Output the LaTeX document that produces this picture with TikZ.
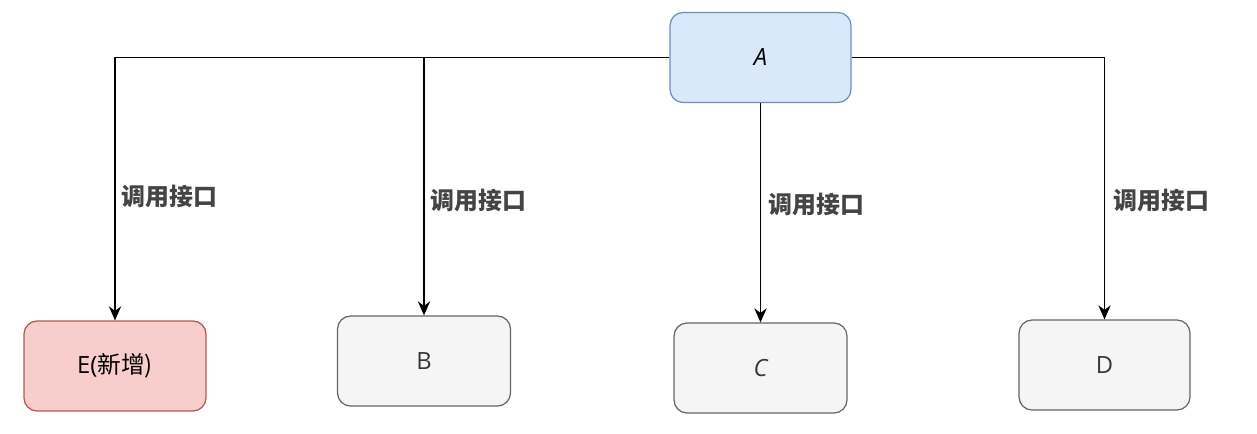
\documentclass[tikz,border=0pt]{standalone}
\usepackage{fontspec}
\setmainfont{Open Sans}
\newfontfamily\cjk{Noto Sans CJK SC}
\usetikzlibrary{arrows.meta}
\definecolor{blueFill}{HTML}{DAE8FC}
\definecolor{blueLine}{HTML}{6C8EBF}
\definecolor{redFill}{HTML}{F8CECC}
\definecolor{redLine}{HTML}{B85450}
\definecolor{grayFill}{HTML}{F5F5F5}
\definecolor{grayLine}{HTML}{666666}
\definecolor{lblText}{HTML}{444444}
\tikzset{
  box/.style={draw, rounded corners=0.26cm, line width=0.7pt, inner sep=0pt,
    minimum height=1.8cm, font=\fontsize{13.5pt}{16pt}\selectfont},
  conn/.style={-{Stealth[length=8pt,width=7pt]}, line width=0.8pt},
  lbl/.style={anchor=west, inner sep=0pt, text=lblText,
    font=\cjk\bfseries\fontsize{13.6pt}{16pt}\selectfont}
}
\begin{document}
\begin{tikzpicture}[x=0.02cm, y=-0.02cm]
  \useasboundingbox (0,0) rectangle (1257,433);
  \node[box, fill=blueFill, draw=blueLine, minimum width=3.62cm] (A) at (760.5,57.5) {\itshape A};
  \node[box, fill=redFill, draw=redLine, minimum width=3.64cm] (E) at (115,366) {E(\cjk 新增)};
  \node[box, fill=grayFill, draw=grayLine, text=lblText!80!black, minimum width=3.46cm] (B) at (424,361) {B};
  \node[box, fill=grayFill, draw=grayLine, text=lblText!80!black, minimum width=3.46cm] (C) at (760.5,368) {\itshape C};
  \node[box, fill=grayFill, draw=grayLine, text=lblText!80!black, minimum width=3.42cm] (D) at (1104.5,365) {D};

  \draw[conn] (A.west) -| (E.north);
  \draw[conn] (A.west) -| (B.north);
  \draw[conn] (A.south) -- (C.north);
  \draw[conn] (A.east) -| (D.north);

  \node[lbl] (lE) at (121,196) {调用接口};
  \node[lbl] (lB) at (430,200) {调用接口};
  \node[lbl] (lC) at (768,204) {调用接口};
  \node[lbl] (lD) at (1113,200) {调用接口};
\end{tikzpicture}
\end{document}
